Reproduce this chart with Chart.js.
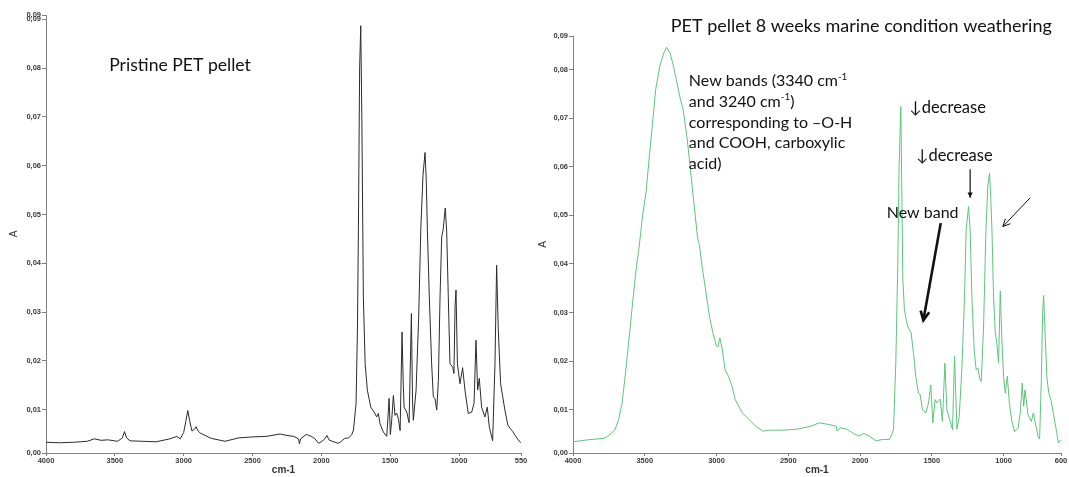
<!DOCTYPE html>
<html>
<head>
<meta charset="utf-8">
<script src="https://cdn.jsdelivr.net/npm/chart.js@4.4.1/dist/chart.umd.min.js"></script>
<style>
  html, body { margin: 0; padding: 0; background: #fff; }
  #wrap { position: relative; width: 1069px; height: 477px; overflow: hidden; }
  #leftChart { position: absolute; left: 0; top: 0; }
  #rightChart { position: absolute; left: 534px; top: 0; }
</style>
</head>
<body>
<div id="wrap">
  <canvas id="leftChart" width="534" height="477"></canvas>
  <canvas id="rightChart" width="535" height="477"></canvas>
</div>
<script>
// ---- data (wavenumber cm-1, absorbance A) ----
const pristineWavenumber = [
  4000, 3900, 3800, 3700, 3650, 3600, 3550, 3480, 3445, 3430, 3415, 3390, 3300, 3200, 3100, 3050,
  3025, 3000, 2985, 2970, 2955, 2940, 2920, 2910, 2895, 2880, 2800, 2700, 2600, 2500, 2400, 2300,
  2250, 2200, 2165, 2160, 2150, 2110, 2080, 2050, 2020, 2000, 1975, 1960, 1945, 1930, 1880, 1864,
  1830, 1803, 1780, 1767, 1748, 1738, 1731, 1722, 1714, 1706, 1699, 1695, 1682, 1666, 1641, 1617,
  1598, 1586, 1574, 1550, 1525, 1508, 1499, 1490, 1477, 1465, 1453, 1440, 1428, 1414, 1405, 1399,
  1380, 1363, 1346, 1338, 1332, 1312, 1293, 1278, 1262, 1247, 1238, 1230, 1216, 1199, 1187, 1175,
  1162, 1150, 1138, 1126, 1115, 1100, 1090, 1078, 1066, 1046, 1037, 1029, 1022, 1012, 993, 974,
  957, 933, 908, 891, 877, 865, 853, 836, 812, 795, 780, 756, 739, 727, 715, 698,
  667, 645, 630, 610, 590, 570, 552
];
const pristineAbsorbance = [
  0.0033, 0.0032, 0.0033, 0.0035, 0.0040, 0.0037, 0.0038, 0.0035, 0.0042, 0.0055, 0.0042, 0.0036, 0.0035, 0.0034, 0.0040, 0.0045,
  0.0040, 0.0053, 0.0075, 0.0098, 0.0075, 0.0056, 0.0060, 0.0065, 0.0056, 0.0052, 0.0041, 0.0035, 0.0042, 0.0044, 0.0045, 0.0050,
  0.0047, 0.0045, 0.0040, 0.0030, 0.0040, 0.0049, 0.0046, 0.0041, 0.0031, 0.0034, 0.0040, 0.0047, 0.0038, 0.0036, 0.0031, 0.0033,
  0.0041, 0.0042, 0.0048, 0.0058, 0.0112, 0.0263, 0.0468, 0.0800, 0.0887, 0.0700, 0.0468, 0.0331, 0.0194, 0.0140, 0.0105, 0.0095,
  0.0085, 0.0092, 0.0071, 0.0054, 0.0045, 0.0123, 0.0049, 0.0075, 0.0129, 0.0088, 0.0093, 0.0080, 0.0057, 0.0259, 0.0150, 0.0105,
  0.0095, 0.0073, 0.0297, 0.0120, 0.0078, 0.0140, 0.0290, 0.0468, 0.0580, 0.0627, 0.0570, 0.0468, 0.0331, 0.0194, 0.0126, 0.0123,
  0.0099, 0.0160, 0.0331, 0.0454, 0.0470, 0.0513, 0.0468, 0.0331, 0.0194, 0.0187, 0.0174, 0.0311, 0.0345, 0.0194, 0.0153, 0.0186,
  0.0140, 0.0092, 0.0095, 0.0113, 0.0242, 0.0140, 0.0164, 0.0105, 0.0085, 0.0105, 0.0064, 0.0036, 0.0194, 0.0396, 0.0263, 0.0153,
  0.0099, 0.0068, 0.0062, 0.0055, 0.0046, 0.0038, 0.0032
];

const weatheredWavenumber = [
  4000, 3900, 3790, 3760, 3730, 3706, 3682, 3658, 3634, 3610, 3587, 3563, 3539, 3515, 3491, 3467,
  3443, 3424, 3395, 3367, 3348, 3324, 3300, 3276, 3252, 3233, 3204, 3180, 3156, 3132, 3120, 3097,
  3073, 3049, 3025, 3001, 2989, 2977, 2960, 2941, 2917, 2893, 2870, 2822, 2774, 2726, 2678, 2631,
  2535, 2439, 2344, 2284, 2224, 2165, 2160, 2141, 2093, 2045, 2009, 1973, 1937, 1890, 1842, 1794,
  1767, 1751, 1737, 1728, 1716, 1709, 1702, 1691, 1674, 1658, 1644, 1628, 1612, 1593, 1581, 1565,
  1542, 1523, 1507, 1493, 1477, 1465, 1442, 1426, 1409, 1395, 1372, 1356, 1342, 1325, 1309, 1291,
  1272, 1261, 1244, 1233, 1221, 1205, 1191, 1179, 1167, 1156, 1140, 1123, 1110, 1098, 1090, 1081,
  1070, 1058, 1047, 1035, 1023, 1012, 1000, 988, 974, 960, 942, 923, 900, 884, 870, 860,
  851, 830, 807, 793, 779, 760, 749, 737, 728, 721, 709, 698, 685, 670, 652, 635,
  618, 602
];
const weatheredAbsorbance = [
  0.0034, 0.0038, 0.0041, 0.0045, 0.0052, 0.0060, 0.0080, 0.0114, 0.0176, 0.0245, 0.0313, 0.0382, 0.0436, 0.0500, 0.0548, 0.0625,
  0.0698, 0.0759, 0.0807, 0.0834, 0.0846, 0.0834, 0.0807, 0.0773, 0.0739, 0.0718, 0.0657, 0.0589, 0.0521, 0.0453, 0.0440, 0.0388,
  0.0340, 0.0292, 0.0258, 0.0231, 0.0230, 0.0248, 0.0224, 0.0183, 0.0169, 0.0149, 0.0121, 0.0094, 0.0080, 0.0066, 0.0056, 0.0058,
  0.0058, 0.0060, 0.0066, 0.0073, 0.0070, 0.0066, 0.0056, 0.0063, 0.0060, 0.0051, 0.0046, 0.0051, 0.0046, 0.0036, 0.0039, 0.0039,
  0.0059, 0.0196, 0.0402, 0.0600, 0.0724, 0.0550, 0.0368, 0.0306, 0.0278, 0.0265, 0.0258, 0.0217, 0.0169, 0.0134, 0.0131, 0.0100,
  0.0093, 0.0114, 0.0151, 0.0073, 0.0121, 0.0114, 0.0122, 0.0076, 0.0196, 0.0100, 0.0076, 0.0059, 0.0210, 0.0060, 0.0086, 0.0182,
  0.0333, 0.0470, 0.0518, 0.0470, 0.0333, 0.0223, 0.0182, 0.0186, 0.0165, 0.0158, 0.0265, 0.0470, 0.0560, 0.0587, 0.0540, 0.0470,
  0.0333, 0.0258, 0.0237, 0.0196, 0.0344, 0.0244, 0.0169, 0.0134, 0.0169, 0.0114, 0.0076, 0.0055, 0.0062, 0.0093, 0.0155, 0.0107,
  0.0141, 0.0090, 0.0076, 0.0093, 0.0073, 0.0045, 0.0040, 0.0162, 0.0299, 0.0335, 0.0244, 0.0165, 0.0135, 0.0120, 0.0090, 0.0062,
  0.0032, 0.0038
];

// axis ranges and tick labels (the instrument software labels its odd axis ends too)
const leftXTicks = [4000, 3500, 3000, 2500, 2000, 1500, 1000, 550];
const rightXTicks = [4000, 3500, 3000, 2500, 2000, 1500, 1000, 600];
const leftYTicks = [0.0011, 0.01, 0.02, 0.03, 0.04, 0.05, 0.06, 0.07, 0.08, 0.09, 0.0909];
const leftYLabels = ['0,00', '0,01', '0,02', '0,03', '0,04', '0,05', '0,06', '0,07', '0,08', '0,09', '0,09'];
const rightYTicks = [0.0011, 0.01, 0.02, 0.03, 0.04, 0.05, 0.06, 0.07, 0.08, 0.0869];
const rightYLabels = ['0,00', '0,01', '0,02', '0,03', '0,04', '0,05', '0,06', '0,07', '0,08', '0,09'];

const TEXT_FONT = 'Lato, "Open Sans", sans-serif';
const AXIS_FONT = '"Liberation Sans", Arial, sans-serif';

// annotations, anchored in data units (wavenumber, absorbance)
const leftNotes = {
  texts: [
    { x: 3541, y: 0.0805, size: 17.6, lines: [['Pristine PET pellet']] }
  ],
  arrows: []
};
const rightNotes = {
  texts: [
    { x: 3319, y: 0.0890, size: 18, lines: [['PET pellet 8 weeks marine condition weathering']] },
    { x: 3193, y: 0.0776, size: 16, lineHeight: 20.6, lines: [
      ['New bands (3340 cm', '^-1'],
      ['and 3240 cm', '^-1', ')'],
      ['corresponding to \u2013O-H'],
      ['and COOH, carboxylic'],
      ['acid)']
    ] },
    { x: 1657, y: 0.0721, size: 16.5, lines: [['\u2193decrease']] },
    { x: 1610, y: 0.0623, size: 16.5, lines: [['\u2193decrease']] },
    { x: 1814, y: 0.0506, size: 16, lines: [['New band']] }
  ],
  arrows: [
    { from: [1233, 0.0595], to: [1233, 0.0536], width: 1.2, head: 6, filled: true },
    { from: [815, 0.0536], to: [1005, 0.0477], width: 1, head: 8 },
    { from: [1438, 0.0484], to: [1559, 0.0284], width: 2.6, head: 10 }
  ]
};

function notesPlugin(notes) {
  return {
    id: 'notes',
    afterDraw(chart) {
      const ctx = chart.ctx;
      const xs = chart.scales.x, ys = chart.scales.y;
      ctx.save();
      ctx.fillStyle = '#111';
      ctx.strokeStyle = '#111';
      ctx.textBaseline = 'middle';
      ctx.textAlign = 'left';
      notes.texts.forEach(n => {
        const x0 = xs.getPixelForValue(n.x);
        const y0 = ys.getPixelForValue(n.y);
        const lh = n.lineHeight || n.size * 1.2;
        n.lines.forEach((segs, i) => {
          let cx = x0;
          const cy = y0 + i * lh;
          segs.forEach(s => {
            const sup = s.startsWith('^');
            const txt = sup ? s.slice(1) : s;
            const size = sup ? n.size * 0.62 : n.size;
            ctx.font = size + 'px ' + TEXT_FONT;
            ctx.fillText(txt, cx, sup ? cy - n.size * 0.3 : cy);
            cx += ctx.measureText(txt).width;
          });
        });
      });
      notes.arrows.forEach(a => {
        const x1 = xs.getPixelForValue(a.from[0]), y1 = ys.getPixelForValue(a.from[1]);
        const x2 = xs.getPixelForValue(a.to[0]), y2 = ys.getPixelForValue(a.to[1]);
        const ang = Math.atan2(y2 - y1, x2 - x1);
        ctx.lineWidth = a.width;
        ctx.beginPath();
        ctx.moveTo(x1, y1);
        ctx.lineTo(x2, y2);
        ctx.stroke();
        const hx1 = x2 - a.head * Math.cos(ang - 0.45), hy1 = y2 - a.head * Math.sin(ang - 0.45);
        const hx2 = x2 - a.head * Math.cos(ang + 0.45), hy2 = y2 - a.head * Math.sin(ang + 0.45);
        ctx.beginPath();
        if (a.filled) {
          ctx.moveTo(x2, y2); ctx.lineTo(hx1, hy1); ctx.lineTo(hx2, hy2); ctx.closePath(); ctx.fill();
        } else {
          ctx.moveTo(hx1, hy1); ctx.lineTo(x2, y2); ctx.lineTo(hx2, hy2); ctx.stroke();
        }
      });
      ctx.restore();
    }
  };
}

function buildSpectrum(canvasId, cfg) {
  const points = cfg.wavenumber.map((w, i) => ({ x: w, y: cfg.absorbance[i] }));
  return new Chart(document.getElementById(canvasId), {
    type: 'line',
    data: {
      datasets: [{
        data: points,
        borderColor: cfg.color,
        borderWidth: 1,
        pointRadius: 0,
        tension: 0,
        fill: false
      }]
    },
    options: {
      responsive: false,
      animation: false,
      layout: { padding: cfg.padding },
      plugins: { legend: { display: false }, tooltip: { enabled: false } },
      scales: {
        x: {
          type: 'linear',
          reverse: true,
          min: cfg.xMin,
          max: 4000,
          afterFit: s => { s.height = 24; },
          afterBuildTicks: s => { s.ticks = cfg.xTicks.map(v => ({ value: v })); },
          grid: { drawOnChartArea: false, drawTicks: true, tickLength: 3, color: '#808080' },
          border: { color: '#808080', width: 1 },
          ticks: {
            autoSkip: false, maxRotation: 0, padding: 0, color: '#3a3a3a',
            font: { family: AXIS_FONT, size: 7.5, weight: 'bold' },
            callback: v => String(v)
          },
          title: {
            display: true, text: 'cm-1', color: '#333',
            font: { family: AXIS_FONT, size: 10, weight: 'bold' },
            padding: { top: 0, bottom: 1 }
          }
        },
        y: {
          min: cfg.yTicks[0],
          max: cfg.yTicks[cfg.yTicks.length - 1],
          afterFit: s => { s.width = cfg.yWidth; },
          afterBuildTicks: s => { s.ticks = cfg.yTicks.map(v => ({ value: v })); },
          grid: { drawOnChartArea: false, drawTicks: true, tickLength: 4, color: '#808080' },
          border: { color: '#808080', width: 1 },
          ticks: {
            autoSkip: false, padding: 1, color: '#3a3a3a',
            font: { family: AXIS_FONT, size: 7.5, weight: 'bold' },
            callback: (v, i) => cfg.yLabels[i]
          },
          title: {
            display: true, text: 'A', color: '#333',
            font: { family: AXIS_FONT, size: 10 },
            padding: { top: cfg.yTitlePad, bottom: 0 }
          }
        }
      }
    },
    plugins: [notesPlugin(cfg.notes)]
  });
}

buildSpectrum('leftChart', {
  wavenumber: pristineWavenumber,
  absorbance: pristineAbsorbance,
  color: '#2b2b2b',
  xMin: 550,
  xTicks: leftXTicks,
  yTicks: leftYTicks,
  yLabels: leftYLabels,
  yWidth: 46,
  yTitlePad: 8,
  padding: { left: 0, right: 13, top: 15, bottom: 0 },
  notes: leftNotes
});

buildSpectrum('rightChart', {
  wavenumber: weatheredWavenumber,
  absorbance: weatheredAbsorbance,
  color: '#5cc57b',
  xMin: 600,
  xTicks: rightXTicks,
  yTicks: rightYTicks,
  yLabels: rightYLabels,
  yWidth: 39,
  yTitlePad: 3,
  padding: { left: 0, right: 8, top: 36, bottom: 0 },
  notes: rightNotes
});
</script>
</body>
</html>
